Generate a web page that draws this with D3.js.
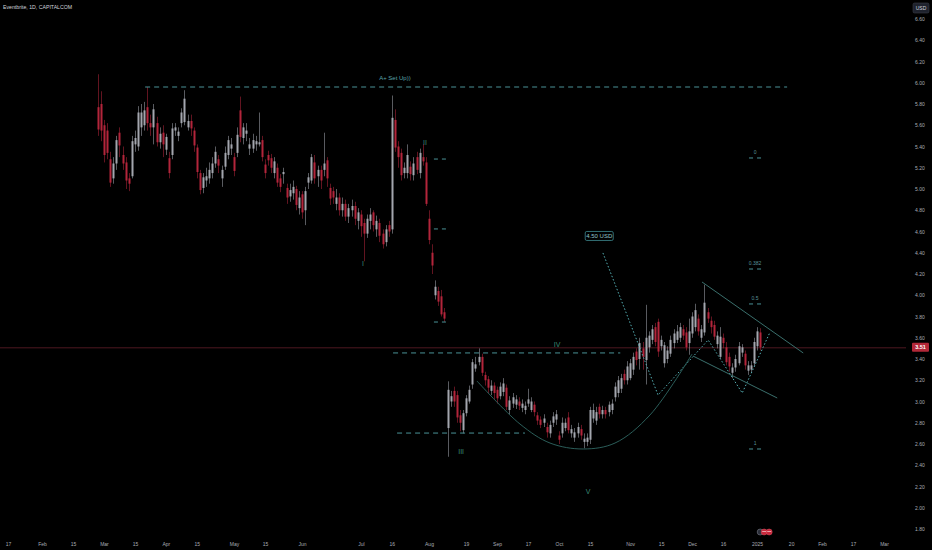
<!DOCTYPE html>
<html><head><meta charset="utf-8">
<script src="https://cdn.jsdelivr.net/npm/d3@7"></script>
<style>html,body{margin:0;padding:0;background:#000;overflow:hidden}svg{display:block}</style>
</head><body><svg id="c" width="932" height="550"></svg>
<script>
// ---------- DATA ----------
const startIndex = 29; // bar index of first candle (bar 0 = Jan 17 2024)
const opens = [
  5.77,5.80,5.60,5.55,5.28,5.10,5.24,5.53,5.32,5.25, // 29-38
  5.10,5.12,5.42,5.40,5.58,5.60,5.77,5.62,5.58,5.62, // 39-48
  5.44,5.53,5.37,5.29,5.32,5.55,5.50,5.62,5.63,5.58, // 49-58
  5.64,5.55,5.39,5.15,5.01,5.08,5.10,5.15,5.24,5.28, // 59-68
  5.10,5.21,5.32,5.38,5.30,5.34,5.74,5.48,5.52,5.38, // 69-78
  5.38,5.42,5.42,5.46,5.23,5.32,5.29,5.15,5.20,5.10, // 79-88
  5.14,5.01,4.93,4.96,5.00,4.82,4.95,4.80,5.06,5.08, // 89-98
  5.25,5.12,5.18,5.18,5.27,5.01,4.98,4.86,4.92,4.80, // 99-108
  4.86,4.74,4.80,4.84,4.70,4.76,4.68,4.58,4.70,4.78, // 109-118
  4.62,4.68,4.58,4.50,4.66,4.62,5.65,5.40,5.34,5.15, // 119-128
  5.15,5.21,5.13,5.30,5.15,5.30,5.25,4.72,4.40,4.00, // 129-138
  4.04,3.99,3.84,2.75,3.00,3.10,3.06,2.87,2.73,2.89, // 139-148
  3.00,3.16,3.31,3.37,3.42,3.25,3.21,3.10,3.15,3.11, // 149-158
  3.05,3.09,3.13,2.92,2.98,2.97,3.00,2.94,2.92,2.98, // 159-168
  2.92,2.97,2.87,2.83,2.80,2.76,2.70,2.80,2.83,2.68, // 169-178
  2.70,2.75,2.85,2.70,2.66,2.70,2.74,2.62,2.62,2.64, // 179-188
  2.84,2.82,2.95,2.88,2.92,2.90,2.92,3.04,3.08,3.12, // 189-198
  3.26,3.20,3.22,3.30,3.47,3.40,3.50,3.39,3.51,3.58, // 199-208
  3.70,3.75,3.52,3.36,3.40,3.45,3.55,3.58,3.60,3.68, // 209-218
  3.65,3.55,3.64,3.70,3.78,3.60,3.65,3.84,3.76,3.72, // 219-228
  3.54,3.42,3.60,3.51,3.42,3.27,3.32,3.36,3.46,3.45, // 229-238
  3.29,3.30,3.36,3.52,3.65                           // 239-243
];
const highs = [
  6.08,5.92,5.65,5.62,5.35,5.30,5.50,5.58,5.40,5.30,
  5.15,5.50,5.55,5.78,5.80,5.82,5.96,5.70,5.80,5.68,
  5.58,5.60,5.52,5.35,5.62,5.62,5.58,5.76,5.93,5.70,
  5.70,5.58,5.42,5.18,5.15,5.20,5.25,5.30,5.40,5.32,
  5.22,5.40,5.50,5.48,5.34,5.58,5.87,5.62,5.62,5.48,
  5.52,5.50,5.72,5.50,5.28,5.36,5.33,5.30,5.24,5.14,
  5.20,5.05,5.05,5.08,5.03,4.98,4.98,5.02,5.15,5.33,
  5.32,5.22,5.22,5.53,5.30,5.05,5.02,5.00,4.96,4.92,
  4.90,4.86,4.90,4.88,4.82,4.80,4.72,4.76,4.82,4.80,
  4.75,4.72,4.62,4.66,4.70,5.88,5.75,5.45,5.38,5.25,
  5.42,5.26,5.30,5.35,5.38,5.42,5.30,4.80,4.48,4.14,
  4.08,4.05,3.88,3.19,3.10,3.14,3.10,2.92,2.92,3.06,
  3.15,3.40,3.42,3.50,3.45,3.28,3.24,3.20,3.18,3.14,
  3.18,3.22,3.16,3.05,3.08,3.06,3.04,3.02,3.00,3.12,
  3.04,3.00,2.90,2.86,2.88,2.80,2.82,2.90,2.92,2.72,
  2.85,2.84,2.90,2.78,2.75,2.80,2.78,2.70,2.70,2.95,
  2.98,2.95,2.98,2.96,2.95,3.00,3.02,3.18,3.24,3.26,
  3.30,3.38,3.40,3.46,3.50,3.60,3.56,3.91,3.66,3.72,
  3.74,3.78,3.62,3.56,3.52,3.62,3.68,3.72,3.74,3.72,
  3.70,3.78,3.84,3.92,3.82,3.72,4.10,3.88,3.80,3.76,
  3.66,3.70,3.64,3.56,3.46,3.36,3.44,3.56,3.54,3.48,
  3.38,3.38,3.60,3.70,3.69
];
const lows = [
  5.50,5.45,5.25,5.28,5.02,5.05,5.18,5.30,5.18,5.00,
  4.98,5.10,5.35,5.36,5.50,5.55,5.55,5.50,5.42,5.40,
  5.38,5.30,5.32,5.10,5.28,5.50,5.45,5.58,5.60,5.55,
  5.50,5.35,5.10,4.95,4.96,5.02,5.05,5.10,5.20,5.15,
  5.02,5.18,5.28,5.32,5.12,5.30,5.44,5.42,5.45,5.32,
  5.34,5.36,5.40,5.26,5.10,5.22,5.15,5.10,5.02,4.97,
  5.05,4.86,4.88,4.90,4.80,4.76,4.72,4.66,5.00,5.05,
  5.05,5.02,5.00,5.12,5.02,4.85,4.86,4.80,4.75,4.74,
  4.70,4.68,4.74,4.66,4.62,4.55,4.32,4.54,4.62,4.60,
  4.55,4.50,4.44,4.46,4.55,4.58,5.35,5.20,5.08,5.10,
  5.10,5.08,5.08,5.14,5.10,5.22,4.84,4.48,4.20,3.96,
  3.90,3.80,3.75,2.48,2.95,2.95,2.80,2.72,2.70,2.86,
  2.98,3.12,3.28,3.34,3.24,3.15,3.08,3.06,3.02,2.98,
  3.02,3.05,2.92,2.88,2.94,2.93,2.92,2.90,2.88,2.95,
  2.90,2.86,2.78,2.75,2.76,2.66,2.66,2.76,2.78,2.60,
  2.66,2.72,2.70,2.66,2.62,2.66,2.64,2.56,2.58,2.60,
  2.80,2.78,2.84,2.84,2.84,2.86,2.88,3.00,3.04,3.08,
  3.16,3.16,3.20,3.25,3.34,3.30,3.30,3.16,3.46,3.54,
  3.52,3.42,3.48,3.32,3.36,3.42,3.50,3.55,3.56,3.58,
  3.48,3.44,3.60,3.66,3.62,3.56,3.62,3.74,3.64,3.58,
  3.50,3.40,3.50,3.34,3.28,3.22,3.28,3.34,3.42,3.30,
  3.25,3.27,3.33,3.48,3.48
];
const closes = [
  5.56,5.55,5.32,5.34,5.06,5.24,5.46,5.41,5.24,5.08,
  5.05,5.45,5.48,5.72,5.72,5.74,5.62,5.58,5.75,5.44,
  5.52,5.42,5.49,5.15,5.57,5.58,5.54,5.72,5.85,5.64,
  5.57,5.41,5.16,4.99,5.11,5.12,5.18,5.24,5.35,5.22,
  5.18,5.34,5.46,5.42,5.17,5.51,5.49,5.58,5.55,5.42,
  5.46,5.45,5.44,5.30,5.15,5.27,5.20,5.26,5.06,5.02,
  5.16,4.92,4.99,5.02,4.85,4.92,4.78,4.98,5.11,5.30,
  5.10,5.18,5.08,5.24,5.10,4.91,4.92,4.92,4.80,4.86,
  4.74,4.82,4.84,4.72,4.78,4.65,4.58,4.72,4.76,4.66,
  4.70,4.56,4.48,4.62,4.60,5.67,5.39,5.30,5.13,5.20,
  5.32,5.14,5.24,5.18,5.34,5.26,4.86,4.52,4.28,4.08,
  3.94,3.82,3.78,3.11,3.05,3.00,2.85,2.80,2.89,3.03,
  3.11,3.37,3.35,3.42,3.27,3.20,3.13,3.15,3.08,3.03,
  3.14,3.17,2.95,3.01,3.04,3.02,2.96,2.98,2.96,3.02,
  3.00,2.90,2.82,2.78,2.84,2.71,2.78,2.86,2.88,2.64,
  2.80,2.80,2.73,2.74,2.71,2.76,2.68,2.65,2.66,2.92,
  2.92,2.90,2.88,2.92,2.88,2.97,2.98,3.14,3.20,3.22,
  3.20,3.33,3.36,3.42,3.39,3.55,3.42,3.60,3.62,3.68,
  3.56,3.47,3.58,3.53,3.48,3.58,3.64,3.66,3.70,3.62,
  3.51,3.66,3.80,3.86,3.66,3.68,3.93,3.78,3.70,3.61,
  3.62,3.61,3.55,3.37,3.33,3.32,3.40,3.52,3.51,3.34,
  3.34,3.34,3.56,3.66,3.51
];

const xTickIndex = [0,11,21,31,41,51,61,73,83,95,114,124,136,148,158,168,178,188,201,211,221,231,242,253,263,273,283];
const xTickLabels = ["17","Feb","15","Mar","15","Apr","15","May","15","Jun","Jul","16","Aug","19","Sep","17","Oct","15","Nov","15","Dec","16","2025","20","Feb","17","Mar"];
const yTicks = [1.8,2.0,2.2,2.4,2.6,2.8,3.0,3.2,3.4,3.6,3.8,4.0,4.2,4.4,4.6,4.8,5.0,5.2,5.4,5.6,5.8,6.0,6.2,6.4,6.6];
const lastPrice = 3.51;
const titleText = "Eventbrite, 1D, CAPITALCOM";

// annotations (in bar-index / price space)
const setupLine = {from:44.3, to:251.7, price:5.96, label:"A+ Set Up))", labelAt:125, labelPrice:6.045};
const waveLabels = [
  {t:"I", i:114.7, p:4.30},
  {t:"II", i:134.7, p:5.44},
  {t:"III", i:146.4, p:2.53},
  {t:"IV", i:177.4, p:3.54},
  {t:"V", i:187.4, p:2.15}
];
const shortDashLevels = [5.282, 4.624, 3.748];
const shortDashSpan = [137.6, 141.6];
const levelLines = [
  {from:124.4, to:197.8, price:3.457},
  {from:125.7, to:167.0, price:2.703}
];
const fibLabels = ["0","0.382","0.5","1"];
const fibPrices = [5.292, 4.247, 3.918, 2.553];
const fibSpan = [239.4, 243.3];
const targetLabel = {t:"4.50 USD", i:191, p:4.558};
const zigzag = [[192.2,4.398],[210.0,3.061],[226.2,3.579],[237.2,3.080],[246.2,3.654]];
const upperChannel = [[224.2,4.125],[256.9,3.457]];
const lowerChannel = [[221.3,3.428],[248.5,3.033]];
const cupArc = [[151.5,3.193],[165.4,2.788],[175.1,2.609],[185.8,2.553],[196.1,2.609],[207.4,2.873],[221.0,3.447]];

// ---------- CHART ----------
const svg = d3.select("#c");
svg.append("rect").attr("width",932).attr("height",550).attr("fill","#000");
const x = d3.scaleLinear().domain([0,283]).range([8,884]);
const y = d3.scaleLinear().domain([1.8,6.6]).range([529,19]);
const FONT = "'Liberation Sans', Arial, sans-serif";
const teal = "#5aa3a8";

const candles = opens.map((o,k)=>({i:startIndex+k,o,h:highs[k],l:lows[k],c:closes[k]}));

// last price line
svg.append("line").attr("x1",0).attr("x2",906).attr("y1",y(lastPrice)+0.5).attr("y2",y(lastPrice)+0.5)
  .attr("stroke","#4e1820").attr("stroke-width",1);

// candles
const cg = svg.append("g");
const upC = "#a3a6ae", dnC = "#b3253b";
cg.selectAll("line.w").data(candles).join("line").attr("class","w")
  .attr("x1",d=>Math.round(x(d.i))+0.5).attr("x2",d=>Math.round(x(d.i))+0.5)
  .attr("y1",d=>y(d.h)).attr("y2",d=>y(d.l))
  .attr("stroke",d=>d.c>=d.o?upC:dnC).attr("stroke-opacity",0.55).attr("stroke-width",1);
cg.selectAll("rect.b").data(candles).join("rect").attr("class","b")
  .attr("x",d=>Math.round(x(d.i))-0.5).attr("width",2)
  .attr("y",d=>y(Math.max(d.o,d.c)))
  .attr("height",d=>Math.max(1,Math.abs(y(d.o)-y(d.c))))
  .attr("fill",d=>d.c>=d.o?upC:dnC);

// annotations
const ag = svg.append("g");
ag.append("line").attr("x1",x(setupLine.from)).attr("x2",x(setupLine.to))
  .attr("y1",y(setupLine.price)).attr("y2",y(setupLine.price))
  .attr("stroke","#4a9297").attr("stroke-width",1).attr("stroke-dasharray","5,4");
ag.append("text").attr("x",x(setupLine.labelAt)).attr("y",y(setupLine.labelPrice))
  .attr("text-anchor","middle").attr("dominant-baseline","central")
  .attr("font-family",FONT).attr("font-size",6).attr("fill",teal).text(setupLine.label);

levelLines.forEach(L=>{
  ag.append("line").attr("x1",x(L.from)).attr("x2",x(L.to)).attr("y1",y(L.price)).attr("y2",y(L.price))
    .attr("stroke","#4a9297").attr("stroke-width",1).attr("stroke-dasharray","5,4");
});
shortDashLevels.forEach(p=>{
  ag.append("line").attr("x1",x(shortDashSpan[0])).attr("x2",x(shortDashSpan[1])).attr("y1",y(p)).attr("y2",y(p))
    .attr("stroke","#4a9297").attr("stroke-width",1).attr("stroke-dasharray","4,4");
});
waveLabels.forEach(w=>{
  ag.append("text").attr("x",x(w.i)).attr("y",y(w.p)).attr("text-anchor","middle").attr("dominant-baseline","central")
    .attr("font-family",FONT).attr("font-size",7).attr("fill","#3a8a74").text(w.t);
});
fibPrices.forEach((p,k)=>{
  ag.append("line").attr("x1",x(fibSpan[0])).attr("x2",x(fibSpan[1])).attr("y1",y(p)).attr("y2",y(p))
    .attr("stroke","#4a9297").attr("stroke-width",1).attr("stroke-dasharray","4,4");
  ag.append("text").attr("x",(x(fibSpan[0])+x(fibSpan[1]))/2).attr("y",y(p)-6).attr("text-anchor","middle")
    .attr("dominant-baseline","central").attr("font-family",FONT).attr("font-size",5).attr("fill","#5a9298").text(fibLabels[k]);
});
// target label box
const tx = x(targetLabel.i), ty = y(targetLabel.p);
ag.append("rect").attr("x",tx-14).attr("y",ty-4.5).attr("width",28).attr("height",9).attr("rx",1.5)
  .attr("fill","#000").attr("stroke","#3f8a90").attr("stroke-width",0.8);
ag.append("text").attr("x",tx).attr("y",ty).attr("text-anchor","middle").attr("dominant-baseline","central")
  .attr("font-family",FONT).attr("font-size",6).attr("fill","#8fc4c8").text(targetLabel.t);

const line = d3.line().x(d=>x(d[0])).y(d=>y(d[1]));
ag.append("path").attr("d",line(zigzag)).attr("fill","none").attr("stroke","#55b0b5").attr("stroke-width",1).attr("stroke-dasharray","1.5,2");
ag.append("path").attr("d",line(upperChannel)).attr("fill","none").attr("stroke","#3a6f6c").attr("stroke-width",1);
ag.append("path").attr("d",line(lowerChannel)).attr("fill","none").attr("stroke","#3a6f6c").attr("stroke-width",1);
ag.append("path").attr("d",d3.line().curve(d3.curveCatmullRom).x(d=>x(d[0])).y(d=>y(d[1]))(cupArc))
  .attr("fill","none").attr("stroke","#2b5e5a").attr("stroke-width",1);

// axes
const yAxis = d3.axisRight(y).tickValues(yTicks).tickFormat(d3.format(".2f")).tickSize(0).tickPadding(2);
const ya = svg.append("g").attr("transform","translate(913,0)").call(yAxis);
ya.select(".domain").remove();
ya.selectAll("text").attr("font-family",FONT).attr("font-size",5).attr("fill","#a9acb4");

const xAxis = d3.axisBottom(x).tickValues(xTickIndex).tickFormat((d,i)=>xTickLabels[i]).tickSize(0).tickPadding(2);
const xa = svg.append("g").attr("transform","translate(0,540)").call(xAxis);
xa.select(".domain").remove();
xa.selectAll("text").attr("font-family",FONT).attr("font-size",5).attr("fill","#a9acb4");

// price tag
svg.append("rect").attr("x",912).attr("y",y(lastPrice)-4.5).attr("width",17).attr("height",9).attr("rx",1).attr("fill","#b22838");
svg.append("text").attr("x",920.5).attr("y",y(lastPrice)).attr("text-anchor","middle").attr("dominant-baseline","central")
  .attr("font-family",FONT).attr("font-size",5.5).attr("font-weight","bold").attr("fill","#fff").text(lastPrice.toFixed(2));
// currency box
svg.append("rect").attr("x",913).attr("y",3).attr("width",16).attr("height",10).attr("rx",1.5).attr("fill","#1e222d").attr("stroke","#3a3e48").attr("stroke-width",0.6);
svg.append("text").attr("x",921).attr("y",8).attr("text-anchor","middle").attr("dominant-baseline","central")
  .attr("font-family",FONT).attr("font-size",5).attr("fill","#d1d4dc").text("USD");
// title
svg.append("text").attr("x",3).attr("y",7).attr("dominant-baseline","central")
  .attr("font-family",FONT).attr("font-size",5.2).attr("fill","#d1d4dc").text(titleText);
// earnings / events badge
const bg = svg.append("g").attr("transform",`translate(${x(243)},532)`);
bg.append("circle").attr("cx",0).attr("cy",0).attr("r",3).attr("fill","#2a2e39").attr("stroke","#787b86").attr("stroke-width",0.6);
bg.append("circle").attr("cx",4).attr("cy",0).attr("r",3).attr("fill","#c8283c").attr("stroke","#e05060").attr("stroke-width",0.5);
bg.append("circle").attr("cx",9).attr("cy",0).attr("r",3).attr("fill","#c8283c").attr("stroke","#e05060").attr("stroke-width",0.5);
bg.append("rect").attr("x",2).attr("y",-1).attr("width",4).attr("height",0.8).attr("fill","#fff").attr("opacity",0.7);
bg.append("rect").attr("x",7).attr("y",-1).attr("width",4).attr("height",0.8).attr("fill","#fff").attr("opacity",0.7);
</script></body></html>
